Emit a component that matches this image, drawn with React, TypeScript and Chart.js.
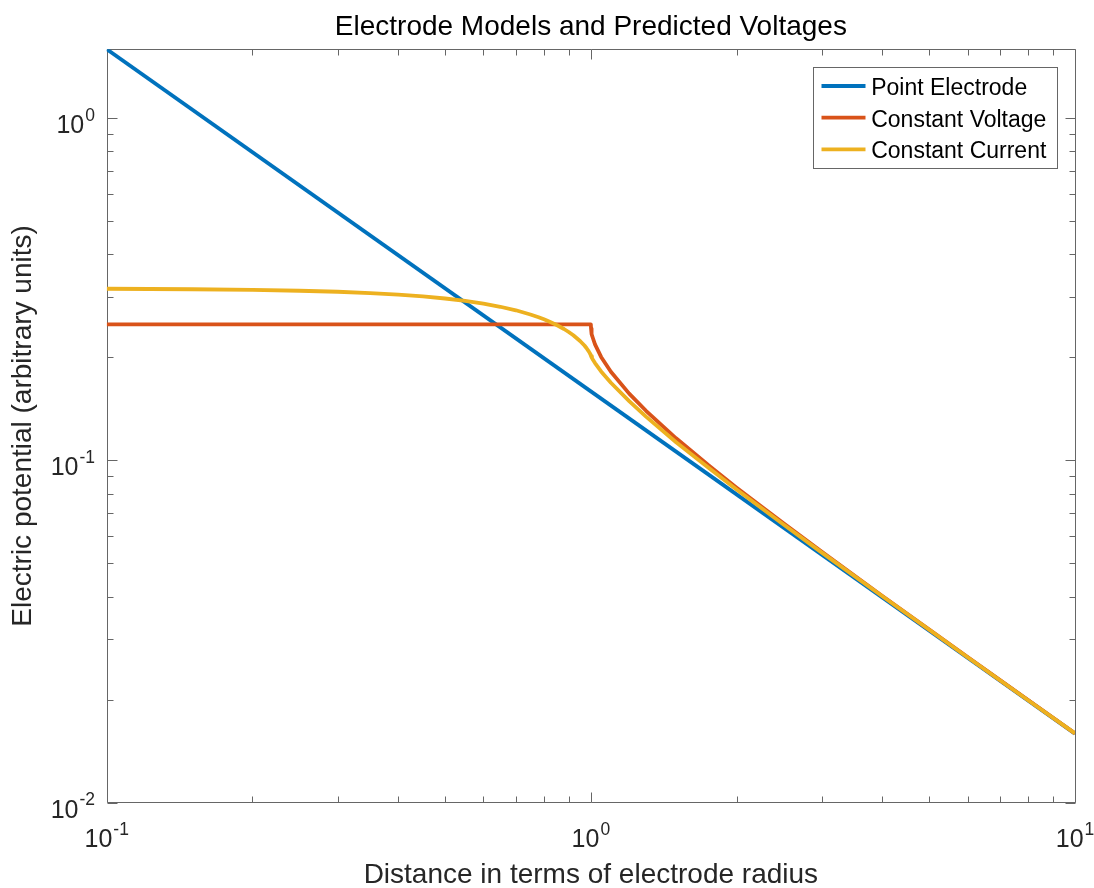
import React, { useEffect, useRef } from 'react';
import { Chart, registerables } from 'chart.js';

Chart.register(...registerables);

const FONT = "'Liberation Sans', Arial, Helvetica, sans-serif";

const TITLE = 'Electrode Models and Predicted Voltages';
const X_LABEL = 'Distance in terms of electrode radius';
const Y_LABEL = 'Electric potential (arbitrary units)';

const SERIES_NAMES = ['Point Electrode', 'Constant Voltage', 'Constant Current'];
const SERIES_COLORS = ['#0072BD', '#D95319', '#EDB120'];

// Point electrode: straight line on log-log axes
const pointR = [0.1, 1, 10];
const pointV = [1.5915, 0.15915, 0.015915];

// Constant-voltage disk: flat inside the radius, falls off outside
const voltageR = [0.1, 0.5, 1, 1.001, 1.002, 1.005, 1.01, 1.02, 1.05, 1.1, 1.2, 1.3, 1.5, 1.75, 2, 2.5, 3, 4, 5, 6, 7, 8, 10];
const voltageV = [0.25, 0.25, 0.25, 0.2429, 0.2399, 0.2341, 0.2276, 0.2184, 0.2007, 0.1816, 0.1568, 0.1397, 0.1161, 0.0968, 0.0833, 0.0655, 0.0541, 0.0402, 0.03205, 0.02665, 0.02281, 0.01995, 0.01594];

// Constant-current disk
const currentR = [0.1, 0.15, 0.2, 0.25, 0.3, 0.35, 0.4, 0.45, 0.5, 0.55, 0.6, 0.65, 0.7, 0.75, 0.78, 0.8, 0.82, 0.85, 0.88, 0.9, 0.92, 0.95, 0.97, 0.98, 0.99, 0.995, 0.999, 1, 1.001, 1.005, 1.01, 1.02, 1.05, 1.1, 1.2, 1.3, 1.5, 1.75, 2, 2.5, 3, 4, 5, 6, 8, 10];
const currentV = [0.3175, 0.3165, 0.3151, 0.3133, 0.3112, 0.3083, 0.3052, 0.3015, 0.2974, 0.2927, 0.2874, 0.2813, 0.2747, 0.2671, 0.2622, 0.2586, 0.2547, 0.2488, 0.2422, 0.2374, 0.2322, 0.2235, 0.2167, 0.2128, 0.2084, 0.2059, 0.2035, 0.2026, 0.2018, 0.1994, 0.1969, 0.1926, 0.1821, 0.1687, 0.1491, 0.1343, 0.1131, 0.0952, 0.0823, 0.065, 0.0538, 0.0401, 0.032, 0.0266, 0.01993, 0.01594];

const X_RANGE = [0.1, 10];
const Y_RANGE = [0.01, 1.5915];

const X_MAJOR = [0.1, 1, 10];
const X_MAJOR_EXP = ['-1', '0', '1'];
const X_MINOR = [0.2, 0.3, 0.4, 0.5, 0.6, 0.7, 0.8, 0.9, 2, 3, 4, 5, 6, 7, 8, 9];
const Y_MAJOR = [0.01, 0.1, 1];
const Y_MAJOR_EXP = ['-2', '-1', '0'];
const Y_MINOR = [0.02, 0.03, 0.04, 0.05, 0.06, 0.07, 0.08, 0.09, 0.2, 0.3, 0.4, 0.5, 0.6, 0.7, 0.8, 0.9];

const AXIS_COLOR = '#666666';
const TICK_TEXT = '#262626';
const TICK_SIZE = 25;
const SUP_SIZE = 17.5;
const SUP_RAISE = 12.5;
const LEGEND_SIZE = 23;
const LINE_WIDTH = 3.8;

function drawPower(ctx: CanvasRenderingContext2D, base: string, exp: string, x: number, y: number, align: 'right' | 'center') {
  ctx.font = `${TICK_SIZE}px ${FONT}`;
  const wb = ctx.measureText(base).width;
  ctx.font = `${SUP_SIZE}px ${FONT}`;
  const we = ctx.measureText(exp).width;
  const gap = 1;
  const total = wb + gap + we;
  const start = align === 'right' ? x - total : x - total / 2;
  ctx.textAlign = 'left';
  ctx.textBaseline = 'alphabetic';
  ctx.fillStyle = TICK_TEXT;
  ctx.font = `${TICK_SIZE}px ${FONT}`;
  ctx.fillText(base, start, y);
  ctx.font = `${SUP_SIZE}px ${FONT}`;
  ctx.fillText(exp, start + wb + gap, y - SUP_RAISE);
}

const axesBox = {
  id: 'axesBox',
  beforeDatasetsDraw(chart: any) {
    const { ctx, chartArea: a, scales } = chart;
    const xs = scales.x;
    const ys = scales.y;
    const L = Math.round(a.left) + 0.5;
    const R = Math.round(a.right) + 0.5;
    const T = Math.floor(a.top) + 0.5;
    const B = Math.floor(a.bottom) + 0.5;
    ctx.save();
    ctx.strokeStyle = AXIS_COLOR;
    ctx.lineWidth = 1;
    ctx.beginPath();
    ctx.rect(L, T, R - L, B - T);
    ctx.stroke();

    ctx.beginPath();
    const xTick = (v: number, len: number) => {
      const px = Math.round(xs.getPixelForValue(v)) + 0.5;
      ctx.moveTo(px, B);
      ctx.lineTo(px, B - len);
      ctx.moveTo(px, T);
      ctx.lineTo(px, T + len);
    };
    const yTick = (v: number, len: number) => {
      const py = Math.round(ys.getPixelForValue(v)) + 0.5;
      ctx.moveTo(L, py);
      ctx.lineTo(L + len, py);
      ctx.moveTo(R, py);
      ctx.lineTo(R - len, py);
    };
    X_MAJOR.forEach((v) => xTick(v, 10));
    X_MINOR.forEach((v) => xTick(v, 6));
    Y_MAJOR.forEach((v) => yTick(v, 10));
    Y_MINOR.forEach((v) => yTick(v, 6));
    ctx.stroke();

    X_MAJOR.forEach((v, i) => {
      drawPower(ctx, '10', X_MAJOR_EXP[i], xs.getPixelForValue(v), a.bottom + 44.5, 'center');
    });
    Y_MAJOR.forEach((v, i) => {
      drawPower(ctx, '10', Y_MAJOR_EXP[i], a.left - 11.7, ys.getPixelForValue(v) + 15, 'right');
    });
    ctx.restore();
  },
  afterDatasetsDraw(chart: any) {
    const { ctx, chartArea: a } = chart;
    const boxLeft = Math.round(a.right - 262) + 0.5;
    const boxRight = Math.round(a.right - 17.7) + 0.5;
    const boxTop = Math.round(a.top + 18.1) + 0.5;
    const boxBottom = Math.round(a.top + 119.1) + 0.5;
    ctx.save();
    ctx.fillStyle = '#ffffff';
    ctx.fillRect(boxLeft, boxTop, boxRight - boxLeft, boxBottom - boxTop);
    ctx.strokeStyle = AXIS_COLOR;
    ctx.lineWidth = 1;
    ctx.strokeRect(boxLeft, boxTop, boxRight - boxLeft, boxBottom - boxTop);
    ctx.font = `${LEGEND_SIZE}px ${FONT}`;
    ctx.textAlign = 'left';
    ctx.textBaseline = 'alphabetic';
    SERIES_NAMES.forEach((name, i) => {
      const y = boxTop + 18.5 + i * 31.65;
      ctx.strokeStyle = SERIES_COLORS[i];
      ctx.lineWidth = LINE_WIDTH;
      ctx.beginPath();
      ctx.moveTo(boxLeft + 8, y);
      ctx.lineTo(boxLeft + 52, y);
      ctx.stroke();
      ctx.fillStyle = '#000000';
      ctx.fillText(name, boxLeft + 57.7, y + 9);
    });
    ctx.restore();
  },
};

function toPoints(xs: number[], ys: number[]) {
  return xs.map((x, i) => ({ x, y: ys[i] }));
}

export default function App() {
  const ref = useRef<HTMLCanvasElement>(null);

  useEffect(() => {
    const canvas = ref.current;
    if (!canvas) return;
    const series = [
      toPoints(pointR, pointV),
      toPoints(voltageR, voltageV),
      toPoints(currentR, currentV),
    ];
    const chart = new Chart(canvas, {
      type: 'line',
      data: {
        datasets: series.map((data, i) => ({
          label: SERIES_NAMES[i],
          data,
          borderColor: SERIES_COLORS[i],
          backgroundColor: SERIES_COLORS[i],
          borderWidth: LINE_WIDTH,
          pointRadius: 0,
          pointHoverRadius: 0,
          fill: false,
          tension: 0,
          borderJoinStyle: 'round',
          order: 3 - i,
          clip: 0,
        })),
      },
      options: {
        animation: false,
        responsive: false,
        devicePixelRatio: 1,
        events: [],
        layout: { padding: { left: 0, right: 19, top: 0, bottom: 0 } },
        plugins: {
          legend: { display: false },
          tooltip: { enabled: false },
          title: { display: false },
        },
        scales: {
          x: {
            type: 'logarithmic',
            position: 'bottom',
            min: X_RANGE[0],
            max: X_RANGE[1],
            grid: { display: false, drawTicks: false },
            border: { display: false },
            ticks: { display: false },
            title: {
              display: true,
              text: X_LABEL,
              color: TICK_TEXT,
              font: { family: FONT, size: 28, lineHeight: 1.2 },
              padding: { top: 0, bottom: -4.1 },
            },
            afterFit: (s: any) => {
              s.height = 85.3;
            },
          },
          xTop: {
            type: 'logarithmic',
            position: 'top',
            min: X_RANGE[0],
            max: X_RANGE[1],
            grid: { display: false, drawTicks: false },
            border: { display: false },
            ticks: { display: false },
            title: {
              display: true,
              text: TITLE,
              color: '#000000',
              font: { family: FONT, size: 28, lineHeight: 1.2 },
              padding: { top: 10.8, bottom: 0 },
            },
            afterFit: (s: any) => {
              s.height = 49.2;
            },
          },
          y: {
            type: 'logarithmic',
            position: 'left',
            min: Y_RANGE[0],
            max: Y_RANGE[1],
            grid: { display: false, drawTicks: false },
            border: { display: false },
            ticks: { display: false },
            title: {
              display: true,
              text: Y_LABEL,
              color: TICK_TEXT,
              font: { family: FONT, size: 28, lineHeight: 1.2 },
              padding: { top: 6.8, bottom: 0 },
            },
            afterFit: (s: any) => {
              s.width = 106.7;
            },
          },
        },
      } as any,
      plugins: [axesBox],
    });
    return () => chart.destroy();
  }, []);

  return (
    <div style={{ position: 'absolute', left: 0, top: 0, width: 1094, height: 888, background: '#ffffff' }}>
      <canvas ref={ref} width={1094} height={888} style={{ display: 'block', width: 1094, height: 888 }} />
    </div>
  );
}
